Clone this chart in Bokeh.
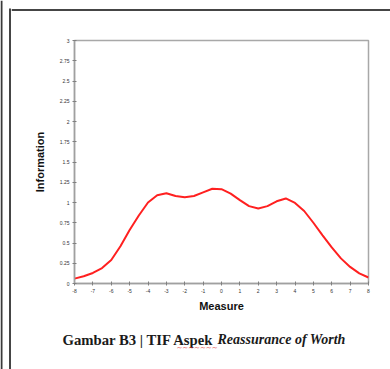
from bokeh.plotting import figure
from bokeh.models import FixedTicker, Label, BoxAnnotation, Range1d
from bokeh.layouts import row, column
from bokeh.embed import file_html
from bokeh.resources import INLINE

# ---- data ----
measure = [-8, -7.5, -7, -6.5, -6, -5.5, -5, -4.5, -4, -3.5, -3, -2.5, -2, -1.5, -1, -0.5,
           0, 0.5, 1, 1.5, 2, 2.5, 3, 3.5, 4, 4.5, 5, 5.5, 6, 6.5, 7, 7.5, 8]
information = [0.06, 0.09, 0.13, 0.19, 0.29, 0.46, 0.66, 0.84, 1.00, 1.09, 1.115, 1.08, 1.065,
               1.08, 1.125, 1.17, 1.165, 1.11, 1.03, 0.955, 0.926, 0.955, 1.015, 1.05, 0.995,
               0.895, 0.75, 0.595, 0.445, 0.31, 0.205, 0.125, 0.074]

x_ticks = list(range(-8, 9))
x_tick_labels = [str(t) for t in x_ticks]
y_ticks = [0, 0.25, 0.5, 0.75, 1, 1.25, 1.5, 1.75, 2, 2.25, 2.5, 2.75, 3]
y_tick_labels = ["0", "0.25", "0.5", "0.75", "1", "1.25", "1.5", "1.75", "2", "2.25", "2.5", "2.75", "3"]

x_title = "Measure"
y_title = "Information"
caption_bold = "Gambar B3 | TIF Aspek"
caption_italic = "Reassurance of Worth"


def blank(w, h):
    f = figure(width=w, height=h, output_backend="svg", toolbar_location=None,
               x_axis_location=None, y_axis_location=None,
               min_border=0, min_border_left=0, min_border_right=0,
               min_border_top=0, min_border_bottom=0,
               x_range=Range1d(0, 1), y_range=Range1d(0, 1), frame_align=False)
    f.outline_line_color = None
    f.grid.grid_line_color = None
    f.background_fill_color = "white"
    f.border_fill_color = "white"
    return f


def box(f, x0, x1, y0, y1, color):
    # frame pixel coords (y from top) -> screen units (y up from frame bottom)
    h = f.height
    f.add_layout(BoxAnnotation(left=x0, right=x1, top=h - y0, bottom=h - y1,
                               left_units="screen", right_units="screen",
                               top_units="screen", bottom_units="screen",
                               fill_color=color, fill_alpha=1, line_color=None))


# ---- left page border strip ----
left = blank(11, 369)
box(left, 0, 2, 0, 369, "#3a3a3a")
box(left, 8.5, 11, 8, 369, "#454545")

# ---- top page border strip ----
top = blank(379, 11)
box(top, 0, 379, 7.5, 10, "#454545")

# ---- main chart ----
p = figure(width=379, height=307, output_backend="svg", toolbar_location=None,
           x_range=Range1d(-8, 8), y_range=Range1d(0, 3), frame_align=False,
           min_border_left=63, min_border_right=22, min_border_top=29, min_border_bottom=35)
p.background_fill_color = "white"
p.border_fill_color = "white"
p.outline_line_color = "#a8a8a8"
p.outline_line_width = 1.5
p.xgrid.grid_line_color = None
p.ygrid.grid_line_color = None

p.line(measure, information, line_color="#ff2020", line_width=2)

for ax in (p.xaxis[0], p.yaxis[0]):
    ax.axis_line_color = "#a0a0a0"
    ax.axis_line_width = 1.5
    ax.major_tick_line_color = "#808080"
    ax.major_tick_line_width = 1
    ax.major_tick_in = 2
    ax.major_tick_out = 2
    ax.minor_tick_line_color = None
    ax.major_label_text_font = "Liberation Sans"
    ax.major_label_text_font_size = "5px"
    ax.major_label_text_color = "#333333"
    ax.axis_label_text_font = "Liberation Sans"
    ax.axis_label_text_font_style = "bold"
    ax.axis_label_text_font_size = "11px"
    ax.axis_label_text_color = "#111111"

p.xaxis[0].ticker = FixedTicker(ticks=x_ticks)
p.xaxis[0].major_label_overrides = dict(zip(x_ticks, x_tick_labels))
p.yaxis[0].ticker = FixedTicker(ticks=y_ticks)
p.yaxis[0].major_label_overrides = dict(zip(y_ticks, y_tick_labels))
p.xaxis[0].axis_label = x_title
p.yaxis[0].axis_label = y_title
p.xaxis[0].major_label_standoff = 3
p.yaxis[0].major_label_standoff = 3
p.xaxis[0].axis_label_standoff = 4
p.yaxis[0].axis_label_standoff = 11

# ---- caption ----
cap = blank(379, 51)
cap.add_layout(Label(x=51, y=30, x_units="screen", y_units="screen", text=caption_bold,
                     text_font="Liberation Serif", text_font_style="bold",
                     text_font_size="14.7px", text_color="#1a1a1a", text_baseline="middle"))
cap.add_layout(Label(x=206, y=30, x_units="screen", y_units="screen", text=caption_italic,
                     text_font="Liberation Serif", text_font_style="bold italic",
                     text_font_size="14px", text_color="#1a1a1a", text_baseline="middle"))
cap.add_layout(Label(x=165, y=22, x_units="screen", y_units="screen", text="~~~~~~~",
                     text_font="DejaVu Sans", text_font_size="7px",
                     text_color="#e03030", text_baseline="middle"))

layout = row(left, column(top, p, cap, spacing=0), spacing=0)
open("out.html", "w").write(file_html(layout, INLINE))
